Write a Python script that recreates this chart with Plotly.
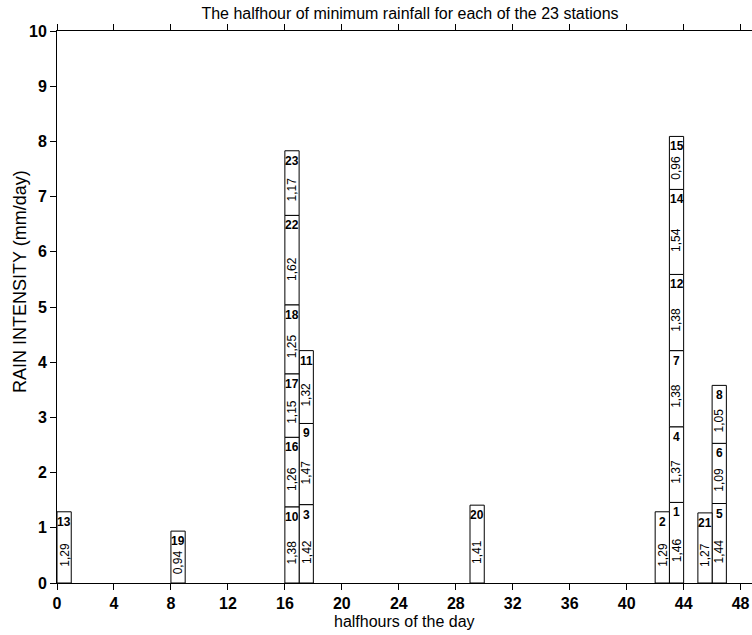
import plotly.graph_objects as go

stations = list(range(1, 24))
halfhours = [43, 42, 17, 43, 46, 46, 43, 46, 17, 16, 17, 43, 0, 43, 43, 16, 16, 16, 8, 29, 45, 16, 16]
values = [1.46, 1.29, 1.42, 1.37, 1.44, 1.09, 1.38, 1.05, 1.47, 1.38, 1.32, 1.38, 1.29,
          1.54, 0.96, 1.26, 1.15, 1.25, 0.94, 1.41, 1.27, 1.62, 1.17]
x_ticks = list(range(0, 49, 4))
y_ticks = list(range(0, 11))

# stack by station order within each halfhour
bases = []
acc = {}
for h, v in zip(halfhours, values):
    b = acc.get(h, 0.0)
    bases.append(b)
    acc[h] = b + v

xc = [h + 0.5 for h in halfhours]

fig = go.Figure()
fig.add_trace(go.Bar(
    x=xc, y=values, base=bases, width=1.0,
    marker=dict(color="white", line=dict(color="black", width=1)),
    showlegend=False, hoverinfo="skip",
))

FONT = "Arial"
ann = []
for s, x, b, v in zip(stations, xc, bases, values):
    ann.append(dict(x=x, y=b + v, xref="x", yref="y", text=f"<b>{s}</b>",
                    showarrow=False, yanchor="top", yshift=-1,
                    font=dict(family=FONT, size=12, color="black")))
    ann.append(dict(x=x, y=b + 0.4 * v, xref="x", yref="y",
                    text=f"{v:.2f}".replace(".", ","), textangle=-90,
                    showarrow=False, font=dict(family=FONT, size=12, color="black")))

ann.append(dict(x=0.5, y=-(621 - 583) / 552, xref="paper", yref="paper",
                text="halfhours of the day", showarrow=False, xanchor="center", yanchor="middle",
                font=dict(family=FONT, size=16, color="black")))
ann.append(dict(x=-(57 - 20) / 695, y=(583 - 282) / 552, xref="paper", yref="paper",
                text="RAIN INTENSITY (mm/day)", textangle=-90, showarrow=False,
                xanchor="center", yanchor="middle",
                font=dict(family=FONT, size=18, color="black")))

fig.update_layout(
    width=752, height=635,
    margin=dict(l=57, r=0, t=31, b=52),
    paper_bgcolor="white", plot_bgcolor="white",
    barmode="overlay",
    title=dict(text="The halfhour of minimum rainfall for each of the 23 stations",
               x=410 / 752, xref="container", xanchor="center",
               y=1 - 13 / 635, yref="container", yanchor="middle",
               font=dict(family=FONT, size=16, color="black")),
    font=dict(family=FONT, color="black"),
    annotations=ann,
)

fig.update_xaxes(range=[0, 48.8], tickvals=x_ticks, ticktext=[f"<b>{t}</b>" for t in x_ticks],
                 ticks="outside", ticklen=6, tickwidth=1, tickcolor="black",
                 showline=True, linecolor="black", linewidth=1, mirror="ticks",
                 showgrid=False, zeroline=False,
                 tickfont=dict(family=FONT, size=16, color="black"))
fig.update_yaxes(range=[0, 10], tickvals=y_ticks, ticktext=[f"<b>{t}</b>" for t in y_ticks],
                 ticks="outside", ticklen=6, tickwidth=1, tickcolor="black",
                 showline=True, linecolor="black", linewidth=1, mirror=False,
                 showgrid=False, zeroline=False,
                 tickfont=dict(family=FONT, size=16, color="black"))

fig.write_html("out.html")
